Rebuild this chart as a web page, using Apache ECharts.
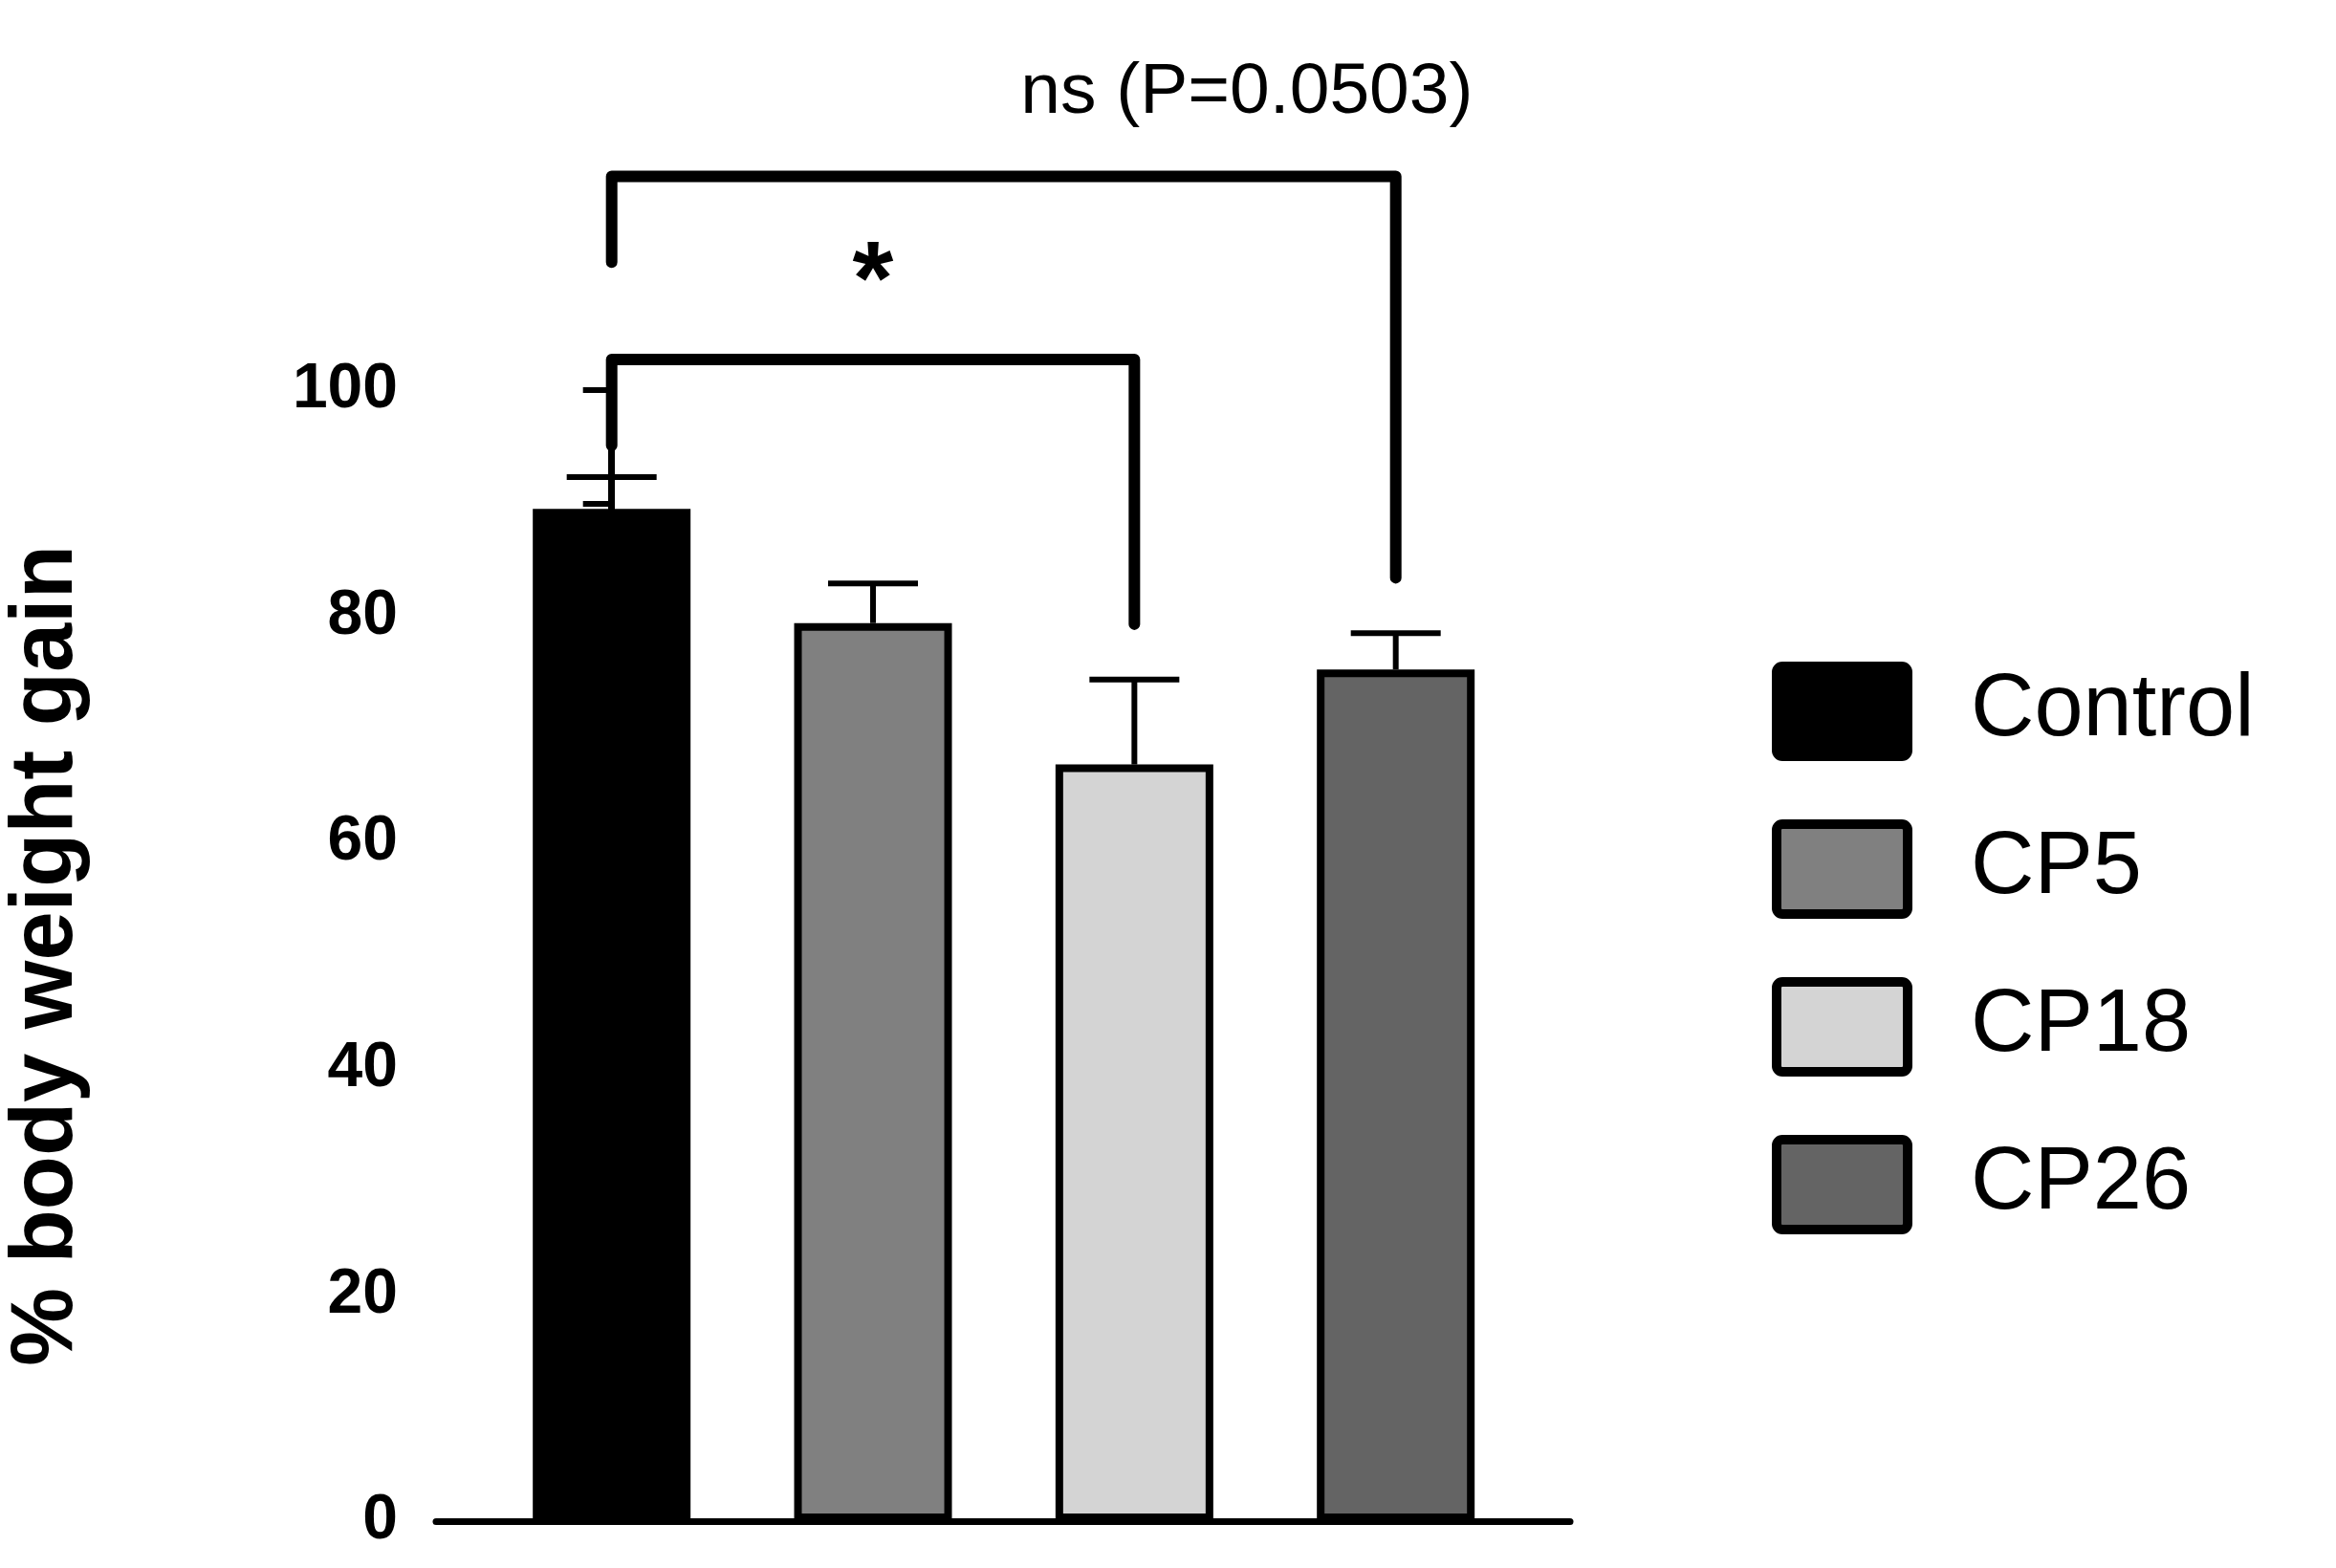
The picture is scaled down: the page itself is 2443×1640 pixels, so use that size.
<!DOCTYPE html>
<html><head><meta charset="utf-8">
<script src="https://cdn.jsdelivr.net/npm/echarts@6/dist/echarts.min.js"></script>
<style>html,body{margin:0;background:#fff}#c{width:2443px;height:1640px}</style>
</head><body><div id="c"></div>
<script>
const categories = ['Control','CP5','CP18','CP26'];
const means = [89.5, 79.4, 66.9, 75.3];
const errTops = [92.3, 82.9, 74.4, 78.5];
const colors = ['#000000','#808080','#d4d4d4','#646464'];
const yTicks = [0,20,40,60,80,100];
// brackets: [fromIdx, toIdx, barY, leftFootY, rightFootY, label]
const brackets = [[0,2,102.7,95.1,79.3,'*'],[0,3,118.9,111.3,83.4,'ns (P=0.0503)']];

const chart = echarts.init(document.getElementById('c'));
const F = 'Liberation Sans, Arial, sans-serif';
const option = {
  animation:false,
  grid:{left:456,right:801,top:408,bottom:49},
  xAxis:{type:'value',min:-0.672,max:3.667,axisLine:{show:true,onZero:false,lineStyle:{color:'#000',width:7}},
    axisTick:{show:false},axisLabel:{show:false},splitLine:{show:false}},
  yAxis:{type:'value',min:0,max:100,interval:20,
    name:'% body weight gain',nameLocation:'middle',nameGap:360,
    nameTextStyle:{fontFamily:F,fontWeight:'bold',fontSize:92,color:'#000'},
    axisLine:{show:true,lineStyle:{color:'#000',width:7}},
    axisTick:{show:true,length:30,lineStyle:{width:6,color:'#000'}},
    minorTick:{show:true,splitNumber:2,length:30,lineStyle:{width:6,color:'#000'}},
    axisLabel:{fontFamily:F,fontWeight:'bold',fontSize:66,color:'#000',margin:40},
    splitLine:{show:false}},
  series:[
    {type:'bar',barWidth:165,z:2,
     data:means.map((v,i)=>({value:[i,v],itemStyle:{color:colors[i],borderColor:'#000',borderWidth:8}}))},
    {type:'custom',z:1,clip:false,data:errTops.map((v,i)=>[i,means[i],v]),
     renderItem:(p,api)=>{
       const b=api.coord([api.value(0),api.value(1)]),t=api.coord([api.value(0),api.value(2)]);
       const s={stroke:'#000',lineWidth:6};
       return {type:'group',children:[
         {type:'line',shape:{x1:b[0],y1:b[1],x2:t[0],y2:t[1]},style:s},
         {type:'line',shape:{x1:t[0]-47,y1:t[1],x2:t[0]+47,y2:t[1]},style:s}]};
     }},
    {type:'custom',z:3,clip:false,data:brackets.map((b,i)=>[i]),
     renderItem:(p,api)=>{
       const b=brackets[api.value(0)];
       const a=api.coord([b[0],b[3]]),c=api.coord([b[0],b[2]]),d=api.coord([b[1],b[2]]),e=api.coord([b[1],b[4]]);
       const big=b[5]==='*';
       const mid=api.coord([big?(b[0]+b[1])/2:2.43, big?109.3:126.3]);
       return {type:'group',children:[
         {type:'polyline',shape:{points:[a,c,d,e]},style:{stroke:'#000',lineWidth:12,fill:null,lineJoin:'round',lineCap:'round'}},
         {type:'text',x:mid[0],y:mid[1],style:{text:b[5],fontFamily:F,fontSize:big?110:75,fontWeight:big?'bold':'normal',fill:'#000',align:'center',verticalAlign:'middle'}}]};
     }}
  ],
  graphic: categories.map((c,i)=>({type:'group',left:1853,top:692+i*165,children:[
    {type:'rect',shape:{x:0,y:0,width:137,height:94,r:6},style:{fill:colors[i],stroke:'#000',lineWidth:10}},
    {type:'text',x:203,y:47,style:{text:c,fontFamily:F,fontSize:92,fill:'#000',verticalAlign:'middle'}}]}))
};
chart.setOption(option);
</script></body></html>
